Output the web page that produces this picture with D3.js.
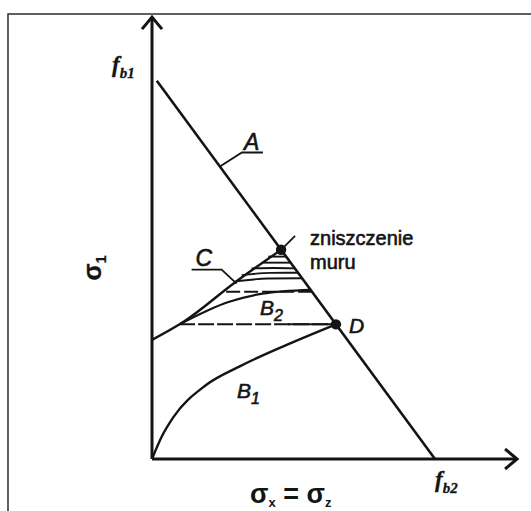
<!DOCTYPE html>
<html>
<head>
<meta charset="utf-8">
<script src="https://cdn.jsdelivr.net/npm/d3@7"></script>
<style>
  html, body { margin: 0; padding: 0; background: #fff; }
  svg { display: block; }
</style>
</head>
<body>
<script>
// Biaxial failure diagram of masonry: σ1 against σx = σz, both scaled to the
// uniaxial strengths fb1 and fb2.

// Failure line A, from fb1 on the σ1 axis to fb2 on the σx axis
const lineA = [[0.017, 1.0], [1.0, 0.0]];
// Envelope C, from the σ1 axis up to the wall failure point
const curveC = [[0, 0.315], [0.113, 0.3635], [0.293, 0.4666], [0.456, 0.553]];
// Loading paths B1 and B2
const curveB1 = [[0, 0], [0.035, 0.06], [0.075, 0.11], [0.19, 0.195], [0.31, 0.245], [0.48, 0.303], [0.65, 0.356]];
const curveB2 = [[0.10, 0.357], [0.27, 0.415], [0.39, 0.437], [0.56, 0.447]];
// Hatching between envelope C and line A
const hatchLines = [
  [[0.411, 0.535], [0.474, 0.535]],
  [[0.393, 0.519], [0.490, 0.519]],
  [[0.352, 0.504], [0.430, 0.505], [0.504, 0.504]],
  [[0.317, 0.486], [0.420, 0.492], [0.515, 0.4925]],
  [[0.293, 0.469], [0.410, 0.477], [0.530, 0.4777]]
];
const hatchDashed = [[0.262, 0.442], [0.565, 0.442]];
// Characteristic points: wall failure and point D
const pointFailure = [0.456, 0.553];
const pointD = [0.65, 0.356];
// Level of point D
const levelD = [[0.0957, 0.356], [0.65, 0.356]];
// Axis extents and strength labels
const axisMax = { x: 1.29, y: 1.168 };
const strengthTicks = [
  { axis: "y", value: 1, sub: "b1" },
  { axis: "x", value: 1, sub: "b2" }
];

const W = 531, H = 511;
const svg = d3.select("body").append("svg")
  .attr("width", W).attr("height", H)
  .attr("viewBox", `0 0 ${W} ${H}`);

const x = d3.scaleLinear().domain([0, 1]).range([152, 435]);
const y = d3.scaleLinear().domain([0, 1]).range([459, 80.7]);

const ink = "#141414";
const line = d3.line().x(d => x(d[0])).y(d => y(d[1]));
const smooth = d3.line().x(d => x(d[0])).y(d => y(d[1])).curve(d3.curveMonotoneX);

// frame
svg.append("rect")
  .attr("x", 8).attr("y", 14)
  .attr("width", W).attr("height", H)
  .attr("fill", "none").attr("stroke", "#3a3a3a").attr("stroke-width", 1.6);

// axes
const axes = svg.append("g").attr("stroke", ink).attr("stroke-width", 3).attr("fill", "none")
  .attr("stroke-linecap", "butt").attr("stroke-linejoin", "miter");
axes.append("path").attr("d", line([[0, 0], [0, axisMax.y]]));
axes.append("path").attr("d", line([[0, 0], [axisMax.x, 0]]));
const yTip = [x(0), y(axisMax.y)], xTip = [x(axisMax.x), y(0)];
axes.append("path").attr("d", `M${yTip[0] - 10},${yTip[1] + 12}L${yTip[0]},${yTip[1]}L${yTip[0] + 10},${yTip[1] + 12}`);
axes.append("path").attr("d", `M${xTip[0] - 12},${xTip[1] - 10}L${xTip[0]},${xTip[1]}L${xTip[0] - 12},${xTip[1] + 10}`);

// curves
const g = svg.append("g").attr("fill", "none").attr("stroke", ink);
g.append("path").attr("d", line(lineA)).attr("stroke-width", 2.6);
g.append("path").attr("d", smooth(curveC)).attr("stroke-width", 2.4);
g.append("path").attr("d", smooth(curveB1)).attr("stroke-width", 2.4);
g.append("path").attr("d", smooth(curveB2)).attr("stroke-width", 2.2);
g.selectAll(".hatch").data(hatchLines).join("path")
  .attr("class", "hatch").attr("d", d => smooth(d)).attr("stroke-width", 1.9);
g.append("path").attr("d", line(hatchDashed)).attr("stroke-width", 2)
  .attr("stroke-dasharray", "14,4");
g.append("path").attr("d", line(levelD)).attr("stroke-width", 2)
  .attr("stroke-dasharray", "16,3");

// leader lines
const leaders = svg.append("g").attr("fill", "none").attr("stroke", ink).attr("stroke-width", 1.8);
const pA = [0.24, 1 - (0.24 - lineA[0][0]) / (lineA[1][0] - lineA[0][0])];
leaders.append("path").attr("d",
  `M${x(pA[0])},${y(pA[1])}L${x(pA[0]) + 22},${y(pA[1]) - 14}L${x(pA[0]) + 43},${y(pA[1]) - 14}`);
const pC = [0.299, 0.4637];
leaders.append("path").attr("d",
  `M${x(pC[0])},${y(pC[1])}L${x(pC[0]) - 15},${y(pC[1]) - 14}L${x(pC[0]) - 45},${y(pC[1]) - 14}`);
leaders.append("path").attr("d",
  `M${x(pointFailure[0])},${y(pointFailure[1])}l14,-14`);
leaders.append("path").attr("d",
  `M${x(pointD[0]) - 48},${y(pointD[1])}L${x(pointD[0])},${y(pointD[1])}`).attr("stroke-width", 2);

// points
svg.selectAll(".pt").data([pointFailure, pointD]).join("circle")
  .attr("class", "pt")
  .attr("cx", d => x(d[0])).attr("cy", d => y(d[1])).attr("r", 5.2).attr("fill", ink);

// labels
const sans = "'Liberation Sans', Arial, sans-serif";
function label(px, py, main, sub, size, opts = {}) {
  const t = svg.append("text").attr("x", px).attr("y", py)
    .attr("font-family", opts.family || sans)
    .attr("font-size", size)
    .attr("font-style", opts.italic ? "italic" : "normal")
    .attr("font-weight", opts.bold ? "bold" : "normal")
    .attr("fill", ink)
    .attr("stroke", ink).attr("stroke-width", opts.bold ? 0.3 : 0.6);
  if (opts.anchor) t.attr("text-anchor", opts.anchor);
  if (opts.rotate) t.attr("transform", `rotate(${opts.rotate},${px},${py})`);
  t.append("tspan").text(main);
  if (sub) t.append("tspan").attr("dy", opts.subDy || 5).attr("font-size", opts.subSize || size * 0.62).text(sub);
  return t;
}

label(x(pA[0]) + 24, y(pA[1]) - 17, "A", null, 23, { italic: true });
label(x(pC[0]) - 41, y(pC[1]) - 18, "C", null, 23, { italic: true });
label(x(pointD[0]) + 13, y(pointD[1]) + 9, "D", null, 21, { italic: true });
label(x(0.3816), y(0.3807), "B", "2", 21, { italic: true, subDy: 6, subSize: 16 });
label(x(0.30), y(0.161), "B", "1", 21, { italic: true, subDy: 6, subSize: 16 });
label(x(pointFailure[0]) + 29, y(pointFailure[1]) - 5, "zniszczenie", null, 20, {});
label(x(pointFailure[0]) + 29, y(pointFailure[1]) + 19, "muru", null, 20, {});

strengthTicks.forEach(t => {
  const px = t.axis === "y" ? x(0) - 40 : x(t.value);
  const py = t.axis === "y" ? y(t.value) - 9 : y(0) + 28;
  label(px, py, "f", t.sub, 23, { italic: true, bold: true, family: "'Liberation Serif', serif", subDy: 6, subSize: 15 });
});

// axis titles
label(x(0) - 51, y(0.505), "σ", "1", 25, { bold: true, rotate: -90, anchor: "middle", subDy: 5, subSize: 14 });
const xt = svg.append("text").attr("x", x(0.49)).attr("y", 503)
  .attr("text-anchor", "middle").attr("font-family", sans).attr("font-size", 27)
  .attr("font-weight", "bold").attr("fill", ink);
xt.append("tspan").text("σ");
xt.append("tspan").attr("dy", 4).attr("font-size", 13).text("x");
xt.append("tspan").attr("dy", -4).text(" = σ");
xt.append("tspan").attr("dy", 4).attr("font-size", 13).text("z");
</script>
</body>
</html>
